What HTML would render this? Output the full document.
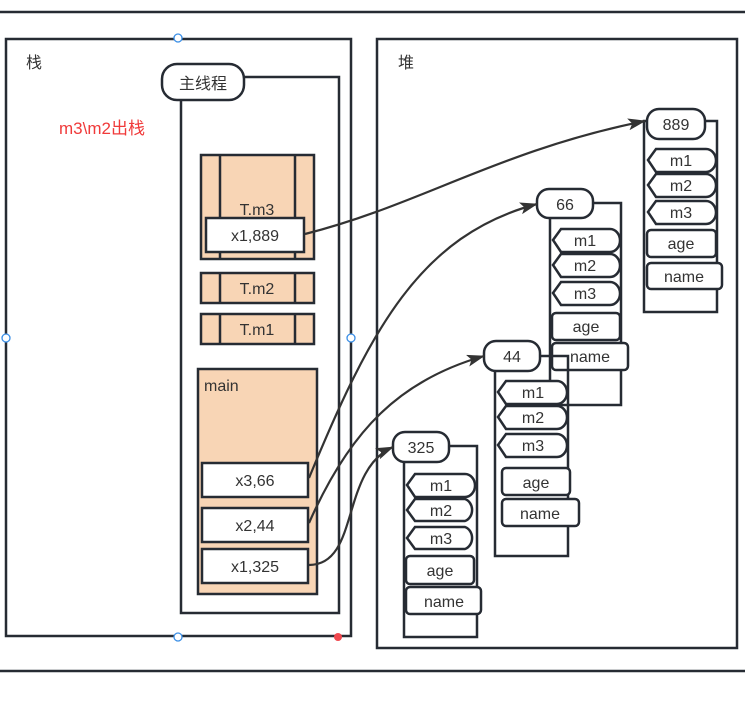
<!DOCTYPE html>
<html><head><meta charset="utf-8"><style>
html,body{margin:0;padding:0;background:#fff;width:745px;height:724px;overflow:hidden}
svg{display:block}
text{font-family:"Liberation Sans","Noto Sans CJK SC",sans-serif;font-size:16px;fill:#333}
</style></head><body>
<svg width="745" height="724" viewBox="0 0 745 724">
<defs>
<marker id="ar" markerWidth="18" markerHeight="12" refX="17" refY="6" orient="auto" markerUnits="userSpaceOnUse">
<path d="M0,0 L18,6 L0,12 L4,6 Z" fill="#333"/>
</marker>
</defs>
<g stroke="#262b33" stroke-width="2.5" fill="none">
<line x1="0" y1="12" x2="745" y2="12"/>
<line x1="0" y1="671" x2="745" y2="671"/>
<rect x="6" y="39" width="345" height="597"/>
<rect x="377" y="39" width="360" height="609"/>
<rect x="181" y="77" width="158" height="536"/>
</g>
<rect x="162" y="64" width="82" height="36" rx="15" fill="#fff" stroke="#262b33" stroke-width="2.5"/>
<text x="203" y="89" text-anchor="middle">主线程</text>
<text x="26" y="68">栈</text>
<text x="398" y="68">堆</text>
<text x="59" y="134" style="fill:#f03a3a;font-size:17px">m3\m2出栈</text>

<g stroke="#262b33" stroke-width="2.5" fill="#f8d5b5">
<rect x="201" y="155" width="113" height="104"/>
<line x1="220" y1="155" x2="220" y2="259"/><line x1="295" y1="155" x2="295" y2="259"/>
<rect x="201" y="273" width="113" height="30"/>
<line x1="220" y1="273" x2="220" y2="303"/><line x1="295" y1="273" x2="295" y2="303"/>
<rect x="201" y="314" width="113" height="30"/>
<line x1="220" y1="314" x2="220" y2="344"/><line x1="295" y1="314" x2="295" y2="344"/>
<rect x="198" y="369" width="119" height="225"/>
</g>
<text x="257" y="215" text-anchor="middle">T.m3</text>
<text x="257" y="294" text-anchor="middle">T.m2</text>
<text x="257" y="335" text-anchor="middle">T.m1</text>
<text x="204" y="391">main</text>
<g stroke="#262b33" stroke-width="2.5" fill="#fff">
<rect x="206" y="218" width="98" height="34"/>
<rect x="202" y="463" width="106" height="34"/>
<rect x="202" y="508" width="106" height="34"/>
<rect x="202" y="549" width="106" height="34"/>
</g>
<text x="255" y="241" text-anchor="middle">x1,889</text>
<text x="255" y="486" text-anchor="middle">x3,66</text>
<text x="255" y="531" text-anchor="middle">x2,44</text>
<text x="255" y="572" text-anchor="middle">x1,325</text>

<!-- object 889 -->
<g stroke="#262b33" stroke-width="2.5">
<rect x="644" y="121" width="73" height="191" fill="none"/>
<path d="M648,160 L656,149 H706 A10,11.5 0 0 1 706,172 H656 Z" fill="#fff"/>
<path d="M648,185 L656,174 H706 A10,11.5 0 0 1 706,197 H656 Z" fill="#fff"/>
<path d="M648,212 L656,201 H706 A10,11.5 0 0 1 706,224 H656 Z" fill="#fff"/>
<rect x="647" y="230" width="69" height="27" rx="4" fill="#fff"/>
<rect x="647" y="263" width="75" height="26" rx="4" fill="#fff"/>
<rect x="647" y="109" width="58" height="30" rx="12" fill="#fff"/>
</g>
<text x="676" y="130" text-anchor="middle">889</text>
<text x="681" y="166" text-anchor="middle">m1</text>
<text x="681" y="191" text-anchor="middle">m2</text>
<text x="681" y="218" text-anchor="middle">m3</text>
<text x="681" y="249" text-anchor="middle">age</text>
<text x="684" y="282" text-anchor="middle">name</text>

<!-- object 66 -->
<g stroke="#262b33" stroke-width="2.5">
<rect x="550" y="203" width="71" height="202" fill="none"/>
<path d="M553,240 L561,229 H610 A10,11.5 0 0 1 610,252 H561 Z" fill="#fff"/>
<path d="M553,265 L561,254 H610 A10,11.5 0 0 1 610,277 H561 Z" fill="#fff"/>
<path d="M553,293 L561,282 H610 A10,11.5 0 0 1 610,305 H561 Z" fill="#fff"/>
<rect x="552" y="313" width="68" height="27" rx="4" fill="#fff"/>
<rect x="552" y="343" width="76" height="27" rx="4" fill="#fff"/>
<rect x="537" y="189" width="56" height="29" rx="12" fill="#fff"/>
</g>
<text x="565" y="210" text-anchor="middle">66</text>
<text x="585" y="246" text-anchor="middle">m1</text>
<text x="585" y="271" text-anchor="middle">m2</text>
<text x="585" y="299" text-anchor="middle">m3</text>
<text x="586" y="332" text-anchor="middle">age</text>
<text x="590" y="362" text-anchor="middle">name</text>

<!-- object 44 -->
<g stroke="#262b33" stroke-width="2.5">
<rect x="495" y="356" width="73" height="200" fill="none"/>
<path d="M498,392 L506,381 H557 A10,11.5 0 0 1 557,404 H506 Z" fill="#fff"/>
<path d="M498,417 L506,406 H557 A10,11.5 0 0 1 557,429 H506 Z" fill="#fff"/>
<path d="M498,445 L506,434 H557 A10,11.5 0 0 1 557,457 H506 Z" fill="#fff"/>
<rect x="502" y="468" width="68" height="27" rx="4" fill="#fff"/>
<rect x="502" y="499" width="77" height="27" rx="4" fill="#fff"/>
<rect x="484" y="341" width="56" height="30" rx="12" fill="#fff"/>
</g>
<text x="512" y="362" text-anchor="middle">44</text>
<text x="533" y="398" text-anchor="middle">m1</text>
<text x="533" y="423" text-anchor="middle">m2</text>
<text x="533" y="451" text-anchor="middle">m3</text>
<text x="536" y="488" text-anchor="middle">age</text>
<text x="540" y="519" text-anchor="middle">name</text>

<!-- object 325 -->
<g stroke="#262b33" stroke-width="2.5">
<rect x="404" y="446" width="73" height="191" fill="none"/>
<path d="M407,485 L415,474 H465 A10,11.5 0 0 1 465,497 H415 Z" fill="#fff"/>
<path d="M407,510 L415,499 H465 A10,11.5 0 0 1 465,521 H415 Z" fill="#fff"/>
<path d="M407,538 L415,527 H465 A10,11.5 0 0 1 465,549 H415 Z" fill="#fff"/>
<rect x="406" y="556" width="68" height="28" rx="4" fill="#fff"/>
<rect x="406" y="587" width="75" height="27" rx="4" fill="#fff"/>
<rect x="393" y="432" width="56" height="30" rx="12" fill="#fff"/>
</g>
<text x="421" y="453" text-anchor="middle">325</text>
<text x="441" y="491" text-anchor="middle">m1</text>
<text x="441" y="516" text-anchor="middle">m2</text>
<text x="441" y="544" text-anchor="middle">m3</text>
<text x="440" y="576" text-anchor="middle">age</text>
<text x="444" y="607" text-anchor="middle">name</text>

<!-- connectors -->
<g stroke="#333" stroke-width="2.2" fill="none" marker-end="url(#ar)">
<path d="M305,234 C420,205 500,150 645,121"/>
<path d="M309,478 C370,330 420,235 537,204"/>
<path d="M309,523 C350,430 400,380 484,356"/>
<path d="M309,565 C360,565 340,470 393,447"/>
</g>

<g fill="#fff" stroke="#3a8ee6" stroke-width="1.3">
<circle cx="178" cy="38" r="4"/>
<circle cx="6" cy="338" r="4"/>
<circle cx="351" cy="338" r="4"/>
<circle cx="178" cy="637" r="4"/>
</g>
<circle cx="338" cy="637" r="4" fill="#f0484e"/>
</svg>
</body></html>
